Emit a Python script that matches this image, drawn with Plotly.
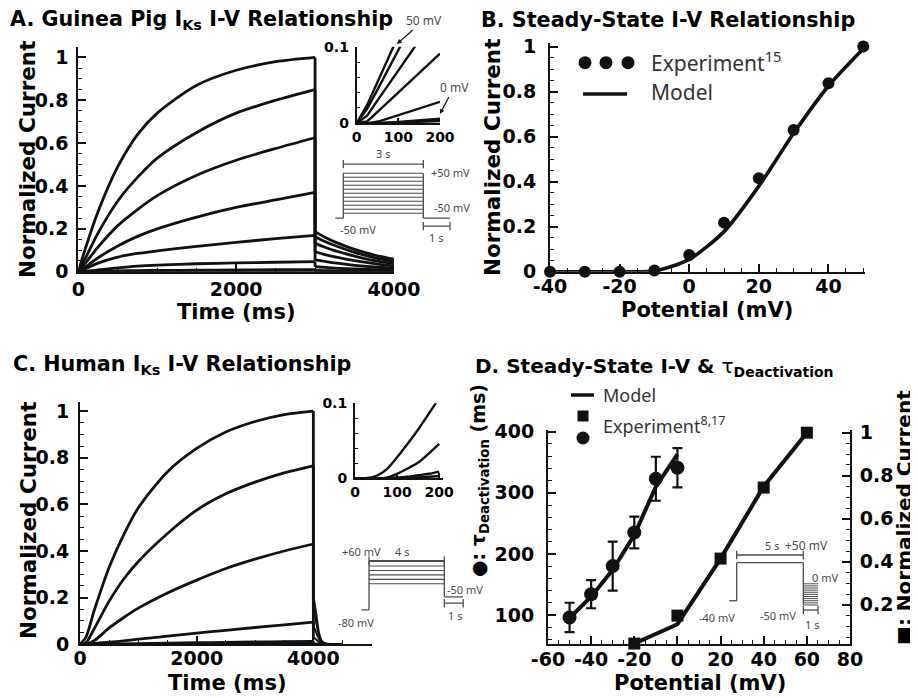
import plotly.graph_objects as go

# The page body adds an 8 px margin, so the figure is 8 px smaller than the window
OFF = 8
W, H = 918 - OFF, 698 - OFF

# ---------------- Panel A: guinea pig IKs current traces ----------------
A_TIME = [0, 100, 250, 500, 750, 1000, 1500, 2000, 2500, 3000]
A_CURRENT = [
    [0, 0.12, 0.28, 0.49, 0.64, 0.74, 0.87, 0.94, 0.98, 1.0],
    [0, 0.07, 0.18, 0.33, 0.44, 0.53, 0.65, 0.74, 0.80, 0.85],
    [0, 0.045, 0.115, 0.215, 0.29, 0.355, 0.45, 0.52, 0.575, 0.625],
    [0, 0.025, 0.065, 0.12, 0.165, 0.20, 0.255, 0.30, 0.335, 0.37],
    [0, 0.015, 0.04, 0.068, 0.085, 0.097, 0.118, 0.137, 0.154, 0.17],
    [0, 0.002, 0.008, 0.018, 0.026, 0.031, 0.037, 0.041, 0.044, 0.047],
    [0, 0.001, 0.002, 0.004, 0.005, 0.006, 0.007, 0.008, 0.009, 0.01],
    [0, 0, 0, 0, 0, 0, 0, 0, 0, 0],
]
A_TAIL_TIME = [3000, 3125, 3250, 3500, 3750, 4000]
A_TAIL = [
    [0.187, 0.161, 0.139, 0.104, 0.078, 0.058],
    [0.163, 0.141, 0.122, 0.090, 0.066, 0.048],
    [0.132, 0.114, 0.098, 0.073, 0.052, 0.038],
    [0.093, 0.080, 0.069, 0.052, 0.038, 0.027],
    [0.055, 0.048, 0.041, 0.030, 0.022, 0.016],
    [0.023, 0.020, 0.017, 0.013, 0.010, 0.008],
    [0.006, 0.005, 0.004, 0.003, 0.003, 0.002],
    [0, 0, 0, 0, 0, 0],
]
A_INSET_TIME = [0, 25, 50, 100, 150, 200]
A_INSET = [
    [0, 0.024, 0.054, 0.114, 0.175, 0.235],
    [0, 0.019, 0.044, 0.096, 0.148, 0.199],
    [0, 0.010, 0.030, 0.069, 0.108, 0.147],
    [0, 0.0025, 0.015, 0.040, 0.066, 0.091],
    [0, 0, 0.002, 0.0105, 0.019, 0.028],
    [0, 0, 0, 0.0017, 0.0039, 0.006],
    [0, 0, 0, 0.001, 0.002, 0.003],
]
A_STEPS_MV = [-50, -40, -30, -20, -10, 0, 10, 20, 30, 40, 50]
A_STEP_S, A_TAIL_S, A_PRE_S = 3.0, 1.0, 0.3
A_HOLD_DRAW = -62          # schematic position of the -50 mV holding line
A_BRACKET_TOP, A_BRACKET_BOT = 73, -82

# ---------------- Panel B: steady-state I-V ----------------
B_EXP_V = [-40, -30, -20, -10, 0, 10, 20, 30, 40, 50]
B_EXP_I = [0, 0, 0, 0.005, 0.074, 0.218, 0.415, 0.63, 0.837, 1.0]
B_MODEL_V = [-40, -30, -20, -10, 0, 10, 20, 30, 40, 50]
B_MODEL_I = [0, 0, 0, 0.003, 0.055, 0.178, 0.38, 0.615, 0.825, 0.99]
B_XTICKS = [-40, -20, 0, 20, 40]

# ---------------- Panel C: human IKs current traces ----------------
C_TIME = [0, 100, 250, 500, 750, 1000, 1500, 2000, 2500, 3000, 3500, 4000]
C_CURRENT = [
    [0, 0.03, 0.15, 0.33, 0.47, 0.585, 0.74, 0.84, 0.91, 0.955, 0.985, 1.0],
    [0, 0.006, 0.07, 0.185, 0.28, 0.355, 0.475, 0.575, 0.645, 0.695, 0.735, 0.765],
    [0, 0.001, 0.017, 0.07, 0.115, 0.155, 0.22, 0.275, 0.325, 0.365, 0.40, 0.43],
    [0, 0, 0.004, 0.009, 0.015, 0.022, 0.035, 0.048, 0.06, 0.072, 0.083, 0.095],
    [0, 0, 0, 0.001, 0.002, 0.003, 0.005, 0.007, 0.008, 0.01, 0.011, 0.012],
    [0, 0, 0, 0, 0, 0, 0, 0, 0, 0, 0, 0],
]
C_TAIL_TIME = [4000, 4050, 4100, 4150, 4200, 4300, 4500]
C_TAIL = [
    [0.21, 0.13, 0.045, 0.012, 0.004, 0.001, 0],
    [0.16, 0.09, 0.035, 0.011, 0.004, 0.001, 0],
    [0.08, 0.05, 0.022, 0.008, 0.003, 0.001, 0],
    [0.03, 0.02, 0.01, 0.004, 0.002, 0, 0],
    [0.005, 0.004, 0.002, 0.001, 0, 0, 0],
    [0, 0, 0, 0, 0, 0, 0],
]
C_INSET_TIME = [0, 25, 50, 75, 100, 125, 150, 175, 200]
C_INSET = [
    [0, 0, 0.003, 0.012, 0.028, 0.046, 0.065, 0.086, 0.107],
    [0, 0, 0, 0.001, 0.006, 0.013, 0.021, 0.033, 0.046],
    [0, 0, 0, 0, 0.001, 0.002, 0.004, 0.006, 0.009],
    [0, 0, 0, 0, 0, 0.001, 0.001, 0.002, 0.003],
]
C_STEPS_MV = [-40, -20, 0, 20, 40, 60]
C_STEP_S, C_TAIL_S, C_PRE_S = 4.0, 1.0, 0.4
C_HOLD_DRAW = -157         # schematic position of the -80 mV holding line
C_TAILLEV_DRAW = -99       # schematic position of the -50 mV tail line
C_BRACKET_TOP, C_BRACKET_BOT = 64, -127

# ---------------- Panel D: steady-state I-V and deactivation tau ----------------
D_TAU_V = [-50, -40, -30, -20, -10, 0]
D_TAU_EXP = [96, 134, 180, 235, 323, 341]
D_TAU_ERR = [24, 23, 40, 26, 36, 32]
D_TAU_MODEL = [95, 130, 174, 231, 310, 363]
D_IV_V = [-20, 0, 20, 40, 60]
D_IV_EXP = [0.02, 0.15, 0.415, 0.745, 1.0]
D_IV_MODEL = [0.02, 0.11, 0.415, 0.75, 1.0]
D_XTICKS = [-60, -40, -20, 0, 20, 40, 60, 80]
D_HOLD_MV, D_STEP_MV = -40, 50
D_TAIL_MV = [0, -5, -10, -15, -20, -25, -30, -35, -40, -45, -50]
D_STEP_S, D_TAIL_S, D_PRE_S = 5.0, 1.1, 0.55
D_BRACKET_TOP, D_BRACKET_BOT = 68, -62


def px(x):
    return (x - OFF) / W


def py(y):
    return 1 - (y - OFF) / H


INK = '#111111'
GRAY = '#4a4a4a'
BOLD = 'DejaVu Sans'
SANS = 'Noto Sans'

fig = go.Figure()


def line(x, y, xa, ya, width=2.8, color=INK, shape='linear', smoothing=1.0):
    fig.add_trace(go.Scatter(x=x, y=y, mode='lines', xaxis=xa, yaxis=ya,
                             line=dict(color=color, width=width, shape=shape, smoothing=smoothing),
                             hoverinfo='skip'))


def bracket(x0, x1, yv, xa, ya):
    fig.add_trace(go.Scatter(x=[x0, x1], y=[yv, yv], mode='lines+markers',
                             xaxis=xa, yaxis=ya,
                             line=dict(color=GRAY, width=1.3),
                             marker=dict(symbol='line-ns-open', size=6,
                                         line=dict(color=GRAY, width=1.3)),
                             hoverinfo='skip', cliponaxis=False))


# ---- Panel A traces ----
for rise, tail in zip(A_CURRENT, A_TAIL):
    line(A_TIME, rise, 'x', 'y', shape='spline', smoothing=0.8)
    line([A_TIME[-1], A_TAIL_TIME[0]], [rise[-1], tail[0]], 'x', 'y')
    line(A_TAIL_TIME, tail, 'x', 'y', shape='spline', smoothing=0.8)
for c in A_INSET:
    line(A_INSET_TIME, c, 'x2', 'y2', width=2.4)
top_a = max(A_STEPS_MV)
line([-A_PRE_S, 0], [A_HOLD_DRAW, A_HOLD_DRAW], 'x3', 'y3', width=1.3, color=GRAY)
line([0, 0], [A_HOLD_DRAW, top_a], 'x3', 'y3', width=1.3, color=GRAY)
line([A_STEP_S, A_STEP_S], [A_HOLD_DRAW, top_a], 'x3', 'y3', width=1.3, color=GRAY)
for v in A_STEPS_MV:
    line([0, A_STEP_S], [v, v], 'x3', 'y3', width=1.1, color=GRAY)
line([A_STEP_S, A_STEP_S + A_TAIL_S], [A_HOLD_DRAW, A_HOLD_DRAW], 'x3', 'y3', width=1.3, color=GRAY)
bracket(0, A_STEP_S, A_BRACKET_TOP, 'x3', 'y3')
bracket(A_STEP_S, A_STEP_S + A_TAIL_S, A_BRACKET_BOT, 'x3', 'y3')

# ---- Panel B traces ----
line(B_MODEL_V, B_MODEL_I, 'x4', 'y4', width=3.6, shape='spline', smoothing=0.7)
fig.add_trace(go.Scatter(x=B_EXP_V, y=B_EXP_I, mode='markers', xaxis='x4', yaxis='y4',
                         marker=dict(color=INK, size=12), cliponaxis=False, hoverinfo='skip'))

# ---- Panel C traces ----
for rise, tail in zip(C_CURRENT, C_TAIL):
    line(C_TIME, rise, 'x5', 'y5', shape='spline', smoothing=0.8)
    line([C_TIME[-1], C_TAIL_TIME[0]], [rise[-1], tail[0]], 'x5', 'y5')
    line(C_TAIL_TIME, tail, 'x5', 'y5', width=2.0, shape='spline', smoothing=0.6)
for c in C_INSET:
    line(C_INSET_TIME, c, 'x6', 'y6', width=2.4, shape='spline', smoothing=0.8)
top_c = max(C_STEPS_MV)
line([-C_PRE_S, 0], [C_HOLD_DRAW, C_HOLD_DRAW], 'x7', 'y7', width=1.3, color=GRAY)
line([0, 0], [C_HOLD_DRAW, top_c], 'x7', 'y7', width=1.3, color=GRAY)
line([C_STEP_S, C_STEP_S], [C_TAILLEV_DRAW, top_c], 'x7', 'y7', width=1.3, color=GRAY)
for v in C_STEPS_MV:
    line([0, C_STEP_S], [v, v], 'x7', 'y7', width=1.1, color=GRAY)
line([C_STEP_S, C_STEP_S + C_TAIL_S], [C_TAILLEV_DRAW, C_TAILLEV_DRAW], 'x7', 'y7', width=1.3, color=GRAY)
bracket(0, C_STEP_S, C_BRACKET_TOP, 'x7', 'y7')
bracket(C_STEP_S, C_STEP_S + C_TAIL_S, C_BRACKET_BOT, 'x7', 'y7')

# ---- Panel D traces ----
line(D_TAU_V, D_TAU_MODEL, 'x8', 'y8', width=4)
fig.add_trace(go.Scatter(x=D_TAU_V, y=D_TAU_EXP, mode='markers', xaxis='x8', yaxis='y8',
                         marker=dict(color=INK, size=14, symbol='circle'),
                         error_y=dict(type='data', array=D_TAU_ERR, color=INK, thickness=2.2, width=5),
                         cliponaxis=False, hoverinfo='skip'))
line(D_IV_V, D_IV_MODEL, 'x8', 'y9', width=4)
fig.add_trace(go.Scatter(x=D_IV_V, y=D_IV_EXP, mode='markers', xaxis='x8', yaxis='y9',
                         marker=dict(color=INK, size=12, symbol='square'),
                         cliponaxis=False, hoverinfo='skip'))
line([-D_PRE_S, 0], [D_HOLD_MV, D_HOLD_MV], 'x10', 'y10', width=1.3, color=GRAY)
line([0, 0], [D_HOLD_MV, D_STEP_MV], 'x10', 'y10', width=1.3, color=GRAY)
line([0, D_STEP_S], [D_STEP_MV, D_STEP_MV], 'x10', 'y10', width=1.3, color=GRAY)
line([D_STEP_S, D_STEP_S], [D_STEP_MV, min(D_TAIL_MV)], 'x10', 'y10', width=1.3, color=GRAY)
for v in D_TAIL_MV:
    line([D_STEP_S, D_STEP_S + D_TAIL_S], [v, v], 'x10', 'y10', width=1.0, color=GRAY)
bracket(0, D_STEP_S, D_BRACKET_TOP, 'x10', 'y10')
bracket(D_STEP_S, D_STEP_S + D_TAIL_S, D_BRACKET_BOT, 'x10', 'y10')


# ---------------- axes ----------------
def axis(dom, rng, anchor, size=19, tlen=8, minor_dtick=None, standoff=5, **kw):
    d = dict(domain=dom, range=rng, anchor=anchor, showline=True, linecolor=INK, linewidth=2,
             ticks='inside', ticklen=tlen, tickwidth=2, tickcolor=INK, showgrid=False,
             zeroline=False, ticklabelstandoff=standoff, automargin=False, tickangle=0,
             tickfont=dict(family=BOLD, size=size, color='black', weight='bold'))
    if minor_dtick is not None:
        d['minor'] = dict(ticks='inside', ticklen=max(3, tlen // 2), tickwidth=1.2,
                          tickcolor=INK, dtick=minor_dtick, showgrid=False)
    d.update(kw)
    return d


def labels(vals):
    return [str(v) for v in vals]


hidden = dict(visible=False, showgrid=False, zeroline=False, automargin=False)

fig.update_layout(
    width=W, height=H, margin=dict(l=0, r=0, t=0, b=0, autoexpand=False),
    paper_bgcolor='white', plot_bgcolor='rgba(0,0,0,0)', showlegend=False,
    # A main
    xaxis=axis([px(78.3), px(394)], [0, 4000], 'y', tickvals=[0, 2000, 4000], minor_dtick=500, standoff=-1),
    yaxis=axis([py(271.7), py(46.7)], [0, 1.05], 'x', dtick=0.2, minor_dtick=0.05, standoff=4),
    # A inset
    xaxis2=axis([px(356.7), px(440)], [0, 200], 'y2', size=14, tlen=5, tickvals=[0, 100, 200],
                minor_dtick=50, standoff=0),
    yaxis2=axis([py(123.3), py(46.7)], [0, 0.1], 'x2', size=14, tlen=5, tickvals=[0, 0.1],
                minor_dtick=0.02, standoff=3),
    # A protocol
    xaxis3=dict(domain=[px(330), px(463.3)], range=[-0.5, 4.5], anchor='y3', **hidden),
    yaxis3=dict(domain=[py(237.3), py(149.3)], range=[-110, 110], anchor='x3', **hidden),
    # B
    xaxis4=axis([px(550), px(865)], [-40, 50.5], 'y4', tickvals=B_XTICKS, ticktext=labels(B_XTICKS),
                minor_dtick=5, standoff=-4),
    yaxis4=axis([py(271.7), py(43)], [0, 1.016], 'x4', dtick=0.2, minor_dtick=0.05, standoff=8),
    # C main
    xaxis5=axis([px(80), px(371.7)], [0, 5000], 'y5', tickvals=[0, 2000, 4000], minor_dtick=500, standoff=-4),
    yaxis5=axis([py(644.3), py(401.7)], [0, 1.04], 'x5', dtick=0.2, minor_dtick=0.05, standoff=5),
    # C inset
    xaxis6=axis([px(355), px(443)], [0, 209], 'y6', size=14, tlen=5, tickvals=[0, 100, 200],
                minor_dtick=50, standoff=0),
    yaxis6=axis([py(478.3), py(403.3)], [0, 0.1], 'x6', size=14, tlen=5, tickvals=[0, 0.1],
                minor_dtick=0.02, standoff=3),
    # C protocol
    xaxis7=dict(domain=[px(357.7), px(470.7)], range=[-0.6, 5.4], anchor='y7', **hidden),
    yaxis7=dict(domain=[py(625), py(545)], range=[-224.7, 134], anchor='x7', **hidden),
    # D
    xaxis8=axis([px(548), px(850)], [-60, 80], 'y8', tickvals=D_XTICKS, ticktext=labels(D_XTICKS),
                minor_dtick=5, standoff=-3),
    yaxis8=axis([py(644), py(430)], [52.5, 402.8], 'x8', tickvals=[100, 200, 300, 400],
                minor_dtick=20, standoff=8),
    yaxis9=axis([py(644), py(430)], [0.018, 1.0125], 'x8', tickvals=[0.2, 0.4, 0.6, 0.8, 1],
                minor_dtick=0.05, standoff=4, side='right', overlaying='y8'),
    # D protocol
    xaxis10=dict(domain=[px(720), px(840)], range=[-1.25, 7.75], anchor='y10', **hidden),
    yaxis10=dict(domain=[py(630), py(540)], range=[-109.2, 103.5], anchor='x10', **hidden),
)


# ---------------- text ----------------
def ann(text, x, y, size=20, xanchor='center', yanchor='middle', angle=0,
        family=BOLD, weight='bold', color='black'):
    fig.add_annotation(text=text, x=px(x), y=py(y), xref='paper', yref='paper',
                       xanchor=xanchor, yanchor=yanchor, textangle=angle, showarrow=False,
                       font=dict(family=family, size=size, color=color, weight=weight))


# panel titles
ann('A. Guinea Pig I<sub>Ks</sub> I-V Relationship', 8, 20, size=20.7, xanchor='left')
ann('B. Steady-State I-V Relationship', 479, 20, size=20.7, xanchor='left')
ann('C. Human I<sub>Ks</sub> I-V Relationship', 11, 365, size=20.7, xanchor='left')
ann('D. Steady-State I-V &amp; <span style="font-weight:normal">τ</span><sub>Deactivation</sub>',
    473, 367, xanchor='left')

# axis titles
ann('Normalized Current', 27, 160, size=21.5, angle=-90)
ann('Time (ms)', 236, 312, size=21)
ann('Normalized Current', 493, 158, size=21.5, angle=-90)
ann('Potential (mV)', 707, 310, size=21)
ann('Normalized Current', 28, 521, size=21.5, angle=-90)
ann('Time (ms)', 227, 683, size=21)
ann('Potential (mV)', 700, 683, size=21)
ann('●: τ<sub>Deactivation</sub> (ms)', 479, 481, size=19, angle=-90)
ann('■: Normalized Current', 904, 518, angle=-90)

# legends
ann('Experiment<sup>15</sup>', 649, 62, size=21, xanchor='left', family=SANS, weight='normal', color='#333')
ann('Model', 649, 92, size=21, xanchor='left', family=SANS, weight='normal', color='#333')
ann('Model', 601, 395, size=18, xanchor='left', family=SANS, weight='normal', color='#333')
ann('Experiment<sup>8,17</sup>', 601, 425, size=18, xanchor='left', family=SANS, weight='normal', color='#333')

for cx in (585, 606, 628):
    fig.add_shape(type='circle', xref='paper', yref='paper', xsizemode='pixel', ysizemode='pixel',
                  xanchor=px(cx), yanchor=py(62.7), x0=-6.5, x1=6.5, y0=-6.5, y1=6.5,
                  fillcolor=INK, line=dict(width=0))
fig.add_shape(type='line', xref='paper', yref='paper', x0=px(583), x1=px(627), y0=py(94), y1=py(94),
              line=dict(color=INK, width=3.5))
fig.add_shape(type='line', xref='paper', yref='paper', x0=px(571), x1=px(594), y0=py(395), y1=py(395),
              line=dict(color=INK, width=3.5))
fig.add_shape(type='rect', xref='paper', yref='paper', xsizemode='pixel', ysizemode='pixel',
              xanchor=px(583), yanchor=py(416), x0=-5.5, x1=5.5, y0=-5.5, y1=5.5,
              fillcolor=INK, line=dict(width=0))
fig.add_shape(type='circle', xref='paper', yref='paper', xsizemode='pixel', ysizemode='pixel',
              xanchor=px(583), yanchor=py(438), x0=-6.5, x1=6.5, y0=-6.5, y1=6.5,
              fillcolor=INK, line=dict(width=0))

# protocol labels
small = dict(family=SANS, weight='normal', color=GRAY)
ann('3 s', 383, 153, size=11, **small)
ann('+50 mV', 429, 173, size=11, xanchor='left', **small)
ann('-50 mV', 432, 208, size=11, xanchor='left', **small)
ann('-50 mV', 358, 230, size=11, **small)
ann('1 s', 436, 237, size=11, **small)

ann('+60 mV', 361, 551, size=11, **small)
ann('4 s', 402, 551, size=11, **small)
ann('-80 mV', 356, 622, size=11, **small)
ann('-50 mV', 445, 589, size=11, xanchor='left', **small)
ann('1 s', 455, 615, size=11, **small)

ann('5 s', 772, 545, size=11, **small)
ann('+50 mV', 783, 545, size=12, xanchor='left', **small)
ann('0 mV', 810, 577, size=11, xanchor='left', **small)
ann('-50 mV', 778, 615, size=11, **small)
ann('1 s', 812, 624, size=11, **small)
ann('-40 mV', 717, 617, size=11, **small)

# inset arrows
fig.add_annotation(text='50 mV', x=px(397), y=py(44), xref='paper', yref='paper',
                   ax=27, ay=-24, showarrow=True, arrowhead=2, arrowsize=0.8, arrowwidth=1.2,
                   arrowcolor=INK, font=dict(family=SANS, size=12, color=GRAY))
fig.add_annotation(text='0 mV', x=px(440), y=py(114), xref='paper', yref='paper',
                   ax=14, ay=-27, showarrow=True, arrowhead=2, arrowsize=0.8, arrowwidth=1.2,
                   arrowcolor=INK, font=dict(family=SANS, size=12, color=GRAY))

fig.write_html('out.html')
